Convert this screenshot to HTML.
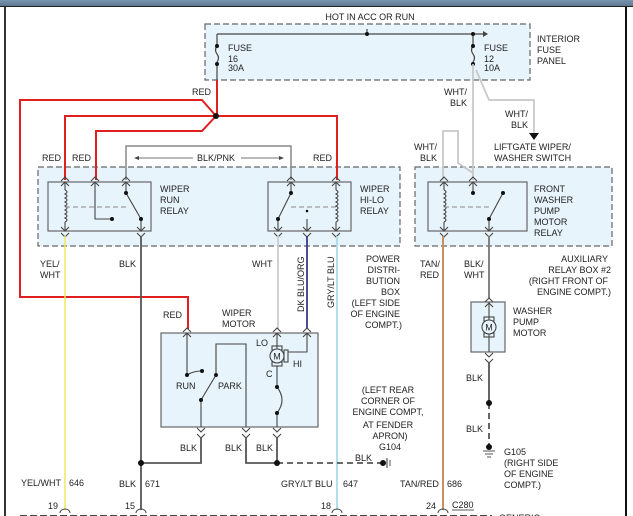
<!DOCTYPE html>
<html><head><meta charset="utf-8"><style>
html,body{margin:0;padding:0;background:#fff;}
svg{display:block;}
text{font-family:"Liberation Sans",Arial,sans-serif;font-size:9px;fill:#222;}
</style></head><body>
<svg width="633" height="516" viewBox="0 0 633 516" xmlns="http://www.w3.org/2000/svg">
<defs>
<linearGradient id="tb" x1="0" y1="0" x2="0" y2="1"><stop offset="0" stop-color="#7894ae"/><stop offset="1" stop-color="#5c7892"/></linearGradient>
</defs>
<rect x="0" y="0" width="633" height="6" fill="url(#tb)"/>
<line x1="0" y1="6.5" x2="633" y2="6.5" stroke="#222" stroke-width="1"/>
<line x1="5" y1="7" x2="5" y2="516" stroke="#333" stroke-width="2"/>
<line x1="626" y1="7" x2="626" y2="516" stroke="#111" stroke-width="2"/>

<g fill="#e8f4fc" stroke="#666" stroke-width="1.2" stroke-dasharray="6,3">
<rect x="205" y="24" width="325" height="56"/>
<rect x="38" y="167" width="362" height="79"/>
<rect x="415" y="167" width="197" height="79"/>
</g>
<g fill="#e8f4fc" stroke="#666" stroke-width="1.2">
<rect x="48" y="182" width="103" height="49"/>
<rect x="268" y="182" width="83" height="49"/>
<rect x="428" y="182" width="99" height="49"/>
<rect x="161" y="333" width="157" height="94"/>
<rect x="471" y="302" width="34" height="50"/>
</g>

<text x="370" y="20" text-anchor="middle">HOT IN ACC OR RUN</text>
<g stroke="#444" stroke-width="1.2" fill="none">
<line x1="217" y1="34" x2="483" y2="34"/>
<line x1="367" y1="29" x2="367" y2="34"/>
<path d="M217 34 V46 M217 46 q-3 4 0 8 q3 4 0 8 M217 64 V80"/>
<path d="M473 34 V46 M473 46 q-3 4 0 8 q3 4 0 8"/>
</g>
<polygon points="483,31 488,34 483,37" fill="#444"/>
<g fill="#111"><circle cx="367" cy="34" r="2"/><circle cx="473" cy="34" r="2"/><circle cx="217" cy="46" r="2"/><circle cx="217" cy="64" r="2"/><circle cx="473" cy="46" r="2"/><circle cx="473" cy="64" r="2"/></g>
<text x="228" y="51">FUSE</text><text x="228" y="62">16</text><text x="228" y="71">30A</text>
<text x="484" y="51">FUSE</text><text x="484" y="62">12</text><text x="484" y="71">10A</text>
<text x="537" y="42">INTERIOR</text><text x="537" y="53">FUSE</text><text x="537" y="64">PANEL</text>

<g stroke="#e02020" stroke-width="2" fill="none">
<path d="M217 80 V116"/>
<path d="M216 116 L202 100 H20 V297 H188 V329"/>
<path d="M216 116 H65 V180"/>
<path d="M216 116 L202 131 H96 V180"/>
<path d="M216 116 H337 V180"/>
</g>
<circle cx="216" cy="116" r="3" fill="#111"/>
<text x="192" y="95">RED</text>
<text x="42" y="161">RED</text><text x="72" y="161">RED</text><text x="313" y="161">RED</text>

<path d="M126 180 V146 H291 V180" stroke="#888" stroke-width="1.5" fill="none"/>
<text x="216" y="161" text-anchor="middle">BLK/PNK</text>
<g stroke="#444" stroke-width="0.8"><line x1="136" y1="158" x2="193" y2="158"/><line x1="241" y1="158" x2="281" y2="158"/></g>
<polygon points="134,158 139,156 139,160" fill="#444"/><polygon points="284,158 279,156 279,160" fill="#444"/>

<g stroke="#c8c8c8" stroke-width="1.8" fill="none">
<path d="M473 64 V180"/>
<path d="M476 70 L489 100 H534 V133"/>
<path d="M443 180 V131 H458 V163 L473 173"/>
</g>
<polygon points="529,133 539,133 534,140" fill="#111"/>
<text x="444" y="95">WHT/</text><text x="450" y="106">BLK</text>
<text x="505" y="117">WHT/</text><text x="511" y="128">BLK</text>
<text x="414" y="150">WHT/</text><text x="420" y="161">BLK</text>
<text x="494" y="150">LIFTGATE WIPER/</text><text x="494" y="161">WASHER SWITCH</text>

<text x="160" y="192">WIPER</text><text x="160" y="203">RUN</text><text x="160" y="214">RELAY</text>
<text x="360" y="192">WIPER</text><text x="360" y="203">HI-LO</text><text x="360" y="214">RELAY</text>
<text x="534" y="192">FRONT</text><text x="534" y="203">WASHER</text><text x="534" y="214">PUMP</text><text x="534" y="225">MOTOR</text><text x="534" y="236">RELAY</text>

<g stroke="#444" stroke-width="1.1" fill="none">
<path d="M65 182 V190 M65 190 q4 2 0 4 q4 2 0 4 q4 2 0 4 q4 2 0 4 q4 2 0 4 q4 2 0 4 q4 2 0 4 q4 2 0 4 M65 222 V231"/>
<path d="M95 182 V219 H112"/>
<path d="M126 182 V193 L141 219 V231"/>
<line x1="65" y1="207" x2="126" y2="207" stroke-dasharray="5,3" stroke="#888"/>
<path d="M336 182 V190 M336 190 q4 2 0 4 q4 2 0 4 q4 2 0 4 q4 2 0 4 q4 2 0 4 q4 2 0 4 q4 2 0 4 q4 2 0 4 M336 222 V231"/>
<path d="M291 182 V193 L278 219 V231"/>
<path d="M307 219 V231"/>
<line x1="291" y1="207" x2="336" y2="207" stroke-dasharray="5,3" stroke="#888"/>
<path d="M444 182 V190 M444 190 q4 2 0 4 q4 2 0 4 q4 2 0 4 q4 2 0 4 q4 2 0 4 q4 2 0 4 q4 2 0 4 q4 2 0 4 M444 222 V231"/>
<path d="M473 182 V193"/>
<path d="M503 193 L489 219 V231"/>
<line x1="444" y1="207" x2="489" y2="207" stroke-dasharray="5,3" stroke="#888"/>
<path d="M61 181 l4 -4 l4 4 M61 186 l4 -4 l4 4 M91 181 l4 -4 l4 4 M91 186 l4 -4 l4 4 M122 181 l4 -4 l4 4 M122 186 l4 -4 l4 4"/>
<path d="M287 181 l4 -4 l4 4 M287 186 l4 -4 l4 4 M332 181 l4 -4 l4 4 M332 186 l4 -4 l4 4"/>
<path d="M440 181 l4 -4 l4 4 M440 186 l4 -4 l4 4 M469 181 l4 -4 l4 4 M469 186 l4 -4 l4 4"/>
<path d="M61 227 l4 4 l4 -4 M61 233 l4 4 l4 -4 M137 227 l4 4 l4 -4 M137 233 l4 4 l4 -4"/>
<path d="M274 227 l4 4 l4 -4 M274 233 l4 4 l4 -4 M303 227 l4 4 l4 -4 M303 233 l4 4 l4 -4 M332 227 l4 4 l4 -4 M332 233 l4 4 l4 -4"/>
<path d="M440 227 l4 4 l4 -4 M440 233 l4 4 l4 -4 M485 227 l4 4 l4 -4 M485 233 l4 4 l4 -4"/>
</g>
<g fill="#111">
<circle cx="126" cy="193" r="2"/><circle cx="141" cy="219" r="2"/><circle cx="112" cy="219" r="2"/>
<circle cx="291" cy="193" r="2"/><circle cx="278" cy="219" r="2"/><circle cx="307" cy="211" r="1.3"/>
<circle cx="473" cy="193" r="2"/><circle cx="503" cy="193" r="2"/><circle cx="489" cy="219" r="2"/>
</g>

<line x1="65" y1="236" x2="65" y2="510" stroke="#f2e860" stroke-width="1.5"/>
<line x1="141" y1="236" x2="141" y2="510" stroke="#555" stroke-width="1.8"/>
<line x1="278" y1="236" x2="278" y2="329" stroke="#ccc" stroke-width="1.8"/>
<line x1="307" y1="236" x2="307" y2="329" stroke="#3a3a8a" stroke-width="1.8"/>
<line x1="337" y1="236" x2="337" y2="510" stroke="#a8dce8" stroke-width="1.8"/>
<line x1="443" y1="236" x2="443" y2="510" stroke="#c89060" stroke-width="2"/>
<line x1="489" y1="236" x2="489" y2="298" stroke="#777" stroke-width="1.8"/>

<text x="40" y="267">YEL/</text><text x="40" y="278">WHT</text>
<text x="119" y="267">BLK</text>
<text x="252" y="267">WHT</text>
<text transform="translate(304,312) rotate(-90)">DK BLU/ORG</text>
<text transform="translate(334,308) rotate(-90)">GRY/LT BLU</text>
<g text-anchor="end"><text x="400" y="262">POWER</text><text x="400" y="273">DISTRI-</text><text x="400" y="284">BUTION</text><text x="400" y="295">BOX</text><text x="400" y="306">(LEFT SIDE</text><text x="400" y="317">OF ENGINE</text><text x="402" y="328">COMPT.)</text></g>
<text x="420" y="267">TAN/</text><text x="420" y="278">RED</text>
<text x="464" y="267">BLK/</text><text x="464" y="278">WHT</text>
<g text-anchor="end"><text x="608" y="262">AUXILIARY</text><text x="611" y="273">RELAY BOX #2</text><text x="608" y="284">(RIGHT FRONT OF</text><text x="611" y="295">ENGINE COMPT.)</text></g>

<text x="163" y="318">RED</text><text x="222" y="316">WIPER</text><text x="222" y="327">MOTOR</text>
<g stroke="#444" stroke-width="1.1" fill="none">
<path d="M183 332 l4 -4 l4 4 M273 332 l4 -4 l4 4 M303 332 l4 -4 l4 4"/>
<path d="M183 337 l4 -4 l4 4 M273 337 l4 -4 l4 4 M303 337 l4 -4 l4 4"/>
<path d="M187 333 V375"/>
<path d="M187 375 q6 -4 15 -4"/>
<path d="M201 427 V400 L216 375 V344 H246 V427"/>
<path d="M277 333 V350"/>
<rect x="272" y="346" width="10" height="4"/><rect x="272" y="362" width="10" height="4"/>
<circle cx="277" cy="356" r="7" fill="#e8f4fc"/>
<rect x="284" y="350" width="4" height="12"/>
<path d="M288 352 H307 V333"/>
<path d="M277 366 V387 M277 387 q10 13 0 26 M277 413 V427"/>
<path d="M197 428 l4 4 l4 -4 M197 434 l4 4 l4 -4 M242 428 l4 4 l4 -4 M242 434 l4 4 l4 -4 M273 428 l4 4 l4 -4 M273 434 l4 4 l4 -4"/>
</g>
<text x="277" y="359.5" text-anchor="middle">M</text>
<g fill="#111"><circle cx="187" cy="375" r="2"/><circle cx="202" cy="371" r="2"/><circle cx="216" cy="375" r="2"/><circle cx="201" cy="400" r="2"/><circle cx="277" cy="387" r="2"/><circle cx="277" cy="413" r="2"/></g>
<text x="256" y="346">LO</text><text x="293" y="367">HI</text><text x="266" y="377">C</text>
<text x="176" y="389">RUN</text><text x="218" y="389">PARK</text>

<g stroke="#555" stroke-width="1.8" fill="none">
<path d="M141 463 H201 V437"/>
<path d="M246 437 V463 H277 V437"/>
<line x1="277" y1="463" x2="383" y2="463" stroke-dasharray="6,4"/>
<line x1="387" y1="458" x2="387" y2="468" stroke-width="1.2"/>
<line x1="390" y1="460" x2="390" y2="466" stroke-width="1"/>
</g>
<g fill="#111"><circle cx="141" cy="463" r="3"/><circle cx="277" cy="463" r="3"/><circle cx="383" cy="463" r="3"/></g>
<text x="180" y="451">BLK</text><text x="225" y="451">BLK</text><text x="256" y="451">BLK</text><text x="355" y="461">BLK</text>
<g text-anchor="middle"><text x="388" y="393">(LEFT REAR</text><text x="388" y="404">CORNER OF</text><text x="388" y="415">ENGINE COMPT,</text><text x="388" y="428">AT FENDER</text><text x="390" y="439">APRON)</text><text x="390" y="450">G104</text></g>

<g stroke="#444" stroke-width="1.1" fill="none">
<path d="M485 302 l4 -4 l4 4 M485 307 l4 -4 l4 4"/>
<path d="M489 302 V321 M489 333 V352"/>
<rect x="484" y="317" width="10" height="4"/><rect x="484" y="333" width="10" height="4"/>
<circle cx="489" cy="327" r="7" fill="#e8f4fc"/>
<path d="M485 353 l4 4 l4 -4 M485 359 l4 4 l4 -4"/>
</g>
<text x="489" y="330.5" text-anchor="middle">M</text>
<text x="513" y="314">WASHER</text><text x="513" y="325">PUMP</text><text x="513" y="336">MOTOR</text>
<g stroke="#555" stroke-width="1.8" fill="none">
<line x1="489" y1="362" x2="489" y2="403"/>
<line x1="489" y1="403" x2="489" y2="447" stroke-dasharray="6,4"/>
<line x1="483" y1="451" x2="495" y2="451" stroke-width="1"/><line x1="485" y1="454" x2="493" y2="454" stroke-width="1"/><line x1="487" y1="457" x2="491" y2="457" stroke-width="1"/>
</g>
<g fill="#111"><circle cx="489" cy="403" r="3"/><circle cx="489" cy="447" r="3"/></g>
<text x="466" y="381">BLK</text><text x="466" y="432">BLK</text>
<text x="504" y="455">G105</text><text x="504" y="466">(RIGHT SIDE</text><text x="504" y="477">OF ENGINE</text><text x="504" y="488">COMPT.)</text>

<text x="21" y="486">YEL/WHT</text><text x="69" y="486">646</text>
<text x="119" y="487">BLK</text><text x="145" y="487">671</text>
<text x="281" y="487">GRY/LT BLU</text><text x="343" y="487">647</text>
<text x="400" y="487">TAN/RED</text><text x="447" y="487">686</text>
<text x="48" y="509">19</text><text x="125" y="509">15</text><text x="321" y="509">18</text><text x="426" y="509">24</text>
<text x="452" y="508">C280</text><line x1="452" y1="510" x2="474" y2="510" stroke="#222" stroke-width="0.7"/>
<g stroke="#444" stroke-width="1" fill="none">
<path d="M60 513 a5 4 0 0 1 10 0 M136 513 a5 4 0 0 1 10 0 M332 513 a5 4 0 0 1 10 0 M438 513 a5 4 0 0 1 10 0"/>
<line x1="20" y1="515.5" x2="492" y2="515.5" stroke-dasharray="7,3"/>
</g>
<text x="499" y="521">GENERIC</text>
</svg>
</body></html>
